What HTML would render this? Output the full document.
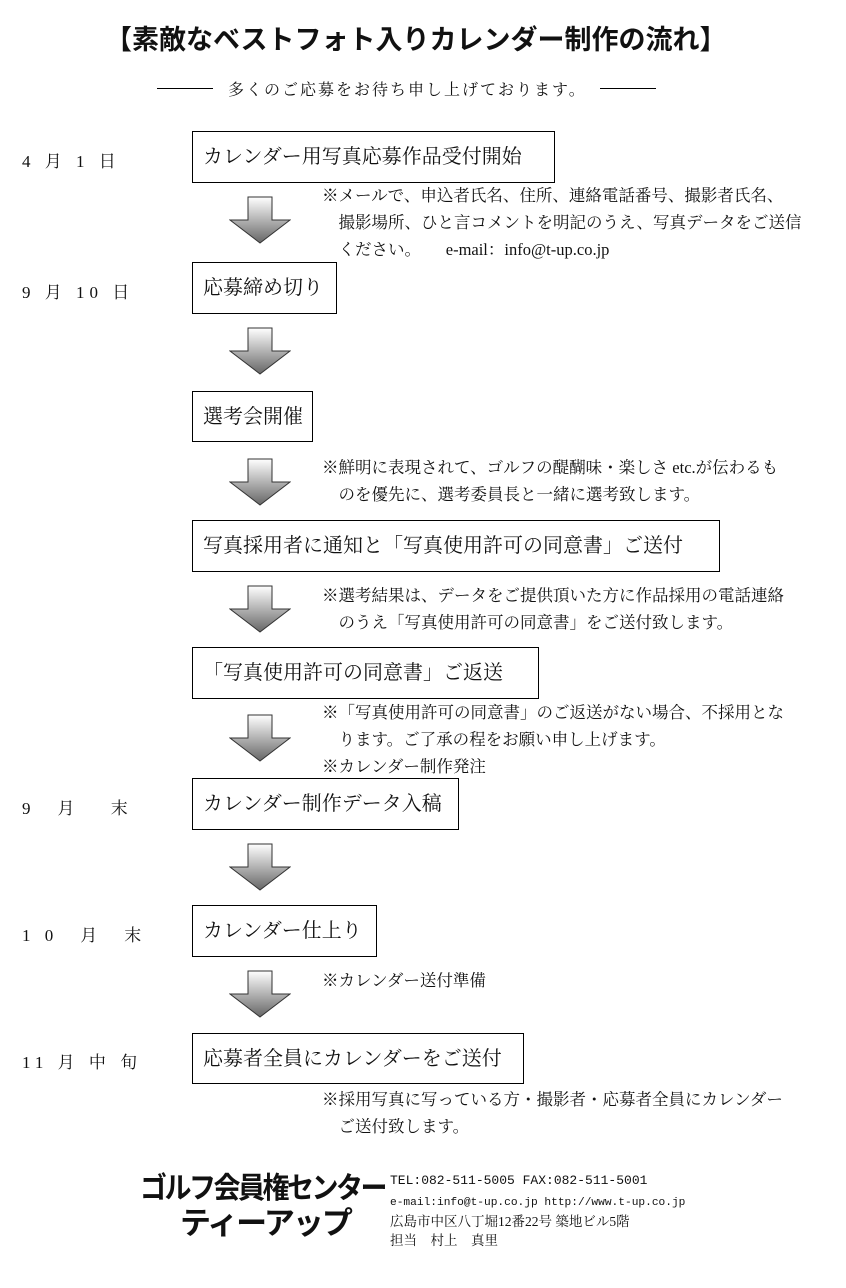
<!DOCTYPE html>
<html><head><meta charset="utf-8"><style>
body{margin:0;width:846px;height:1288px;background:#fff;position:relative;font-family:"Liberation Serif","Noto Serif CJK SC","Noto Sans CJK JP",serif;color:#111;overflow:hidden}
.a{position:absolute;white-space:nowrap}
.box{position:absolute;border:1.3px solid #000;box-sizing:border-box;font-size:20px;line-height:50px;padding-left:10px;white-space:nowrap}
.d{position:absolute;left:22px;font-size:17px;letter-spacing:5px}
.n{position:absolute;left:322px;font-size:16.5px;line-height:27px;white-space:nowrap}
svg.ar{position:absolute;left:229px;width:62px;height:48px}
</style></head><body>
<svg width="0" height="0" style="position:absolute"><defs><linearGradient id="g" x1="0" y1="0" x2="0" y2="1"><stop offset="0" stop-color="#fff"/><stop offset="1" stop-color="#666"/></linearGradient></defs></svg>
<div class="a" style="left:105px;top:18px;font-size:27px;font-weight:bold;font-family:'Liberation Sans','Noto Sans CJK JP',sans-serif">【素敵なベストフォト入りカレンダー制作の流れ】</div>
<div class="a" style="left:157px;top:88px;width:56px;border-top:1px solid #000"></div>
<div class="a" style="left:228px;top:77px;font-size:16px;letter-spacing:2px">多くのご応募をお待ち申し上げております。</div>
<div class="a" style="left:600px;top:88px;width:56px;border-top:1px solid #000"></div>

<div class="d" style="top:147px">4 月 1 日</div>
<div class="d" style="top:278px">9 月 10 日</div>
<div class="d" style="top:794px">9　月　 末</div>
<div class="d" style="top:921px">1 0　月　末</div>
<div class="d" style="top:1048px">11 月 中 旬</div>

<div class="box" style="left:192px;top:131px;width:363px;height:52px">カレンダー用写真応募作品受付開始</div>
<div class="box" style="left:192px;top:262px;width:145px;height:52px">応募締め切り</div>
<div class="box" style="left:192px;top:391px;width:121px;height:51px">選考会開催</div>
<div class="box" style="left:192px;top:520px;width:528px;height:52px">写真採用者に通知と「写真使用許可の同意書」ご送付</div>
<div class="box" style="left:192px;top:647px;width:347px;height:52px">「写真使用許可の同意書」ご返送</div>
<div class="box" style="left:192px;top:778px;width:267px;height:52px">カレンダー制作データ入稿</div>
<div class="box" style="left:192px;top:905px;width:185px;height:52px">カレンダー仕上り</div>
<div class="box" style="left:192px;top:1033px;width:332px;height:51px">応募者全員にカレンダーをご送付</div>

<svg class="ar" style="top:196px" viewBox="0 0 62 48"><polygon points="19,1 43,1 43,24 61,24 31,47 1,24 19,24" fill="url(#g)" stroke="#333" stroke-width="1"/></svg>
<svg class="ar" style="top:327px" viewBox="0 0 62 48"><polygon points="19,1 43,1 43,24 61,24 31,47 1,24 19,24" fill="url(#g)" stroke="#333" stroke-width="1"/></svg>
<svg class="ar" style="top:458px" viewBox="0 0 62 48"><polygon points="19,1 43,1 43,24 61,24 31,47 1,24 19,24" fill="url(#g)" stroke="#333" stroke-width="1"/></svg>
<svg class="ar" style="top:585px" viewBox="0 0 62 48"><polygon points="19,1 43,1 43,24 61,24 31,47 1,24 19,24" fill="url(#g)" stroke="#333" stroke-width="1"/></svg>
<svg class="ar" style="top:714px" viewBox="0 0 62 48"><polygon points="19,1 43,1 43,24 61,24 31,47 1,24 19,24" fill="url(#g)" stroke="#333" stroke-width="1"/></svg>
<svg class="ar" style="top:843px" viewBox="0 0 62 48"><polygon points="19,1 43,1 43,24 61,24 31,47 1,24 19,24" fill="url(#g)" stroke="#333" stroke-width="1"/></svg>
<svg class="ar" style="top:970px" viewBox="0 0 62 48"><polygon points="19,1 43,1 43,24 61,24 31,47 1,24 19,24" fill="url(#g)" stroke="#333" stroke-width="1"/></svg>

<div class="n" style="top:182px">※メールで、申込者氏名、住所、連絡電話番号、撮影者氏名、<br>　撮影場所、ひと言コメントを明記のうえ、写真データをご送信<br>　ください。　　e-mail：info@t-up.co.jp</div>
<div class="n" style="top:454px">※鮮明に表現されて、ゴルフの醍醐味・楽しさ etc.が伝わるも<br>　のを優先に、選考委員長と一緒に選考致します。</div>
<div class="n" style="top:582px">※選考結果は、データをご提供頂いた方に作品採用の電話連絡<br>　のうえ「写真使用許可の同意書」をご送付致します。</div>
<div class="n" style="top:699px">※「写真使用許可の同意書」のご返送がない場合、不採用とな<br>　ります。ご了承の程をお願い申し上げます。<br>※カレンダー制作発注</div>
<div class="n" style="top:967px">※カレンダー送付準備</div>
<div class="n" style="top:1086px">※採用写真に写っている方・撮影者・応募者全員にカレンダー<br>　ご送付致します。</div>

<div class="a" style="left:140px;top:1166px;font-size:27px;font-weight:bold;font-family:'Liberation Sans','Noto Sans CJK JP',sans-serif;letter-spacing:-2.5px;transform:scaleY(1.1)">ゴルフ会員権センター</div>
<div class="a" style="left:180px;top:1198px;font-size:31px;font-weight:bold;font-family:'Liberation Sans','Noto Sans CJK JP',sans-serif;letter-spacing:-2px">ティーアップ</div>
<div class="a" style="left:390px;top:1170px;font-size:13px;line-height:22px;font-family:'Liberation Mono','Noto Serif CJK SC',monospace">TEL:082-511-5005 FAX:082-511-5001</div>
<div class="a" style="left:390px;top:1194px;font-size:11.2px;line-height:18px;font-family:'Liberation Mono','Noto Serif CJK SC',monospace">e-mail:info@t-up.co.jp http://www.t-up.co.jp</div>
<div class="a" style="left:390px;top:1212px;font-size:13.5px;line-height:19px">広島市中区八丁堀12番22号 築地ビル5階</div>
<div class="a" style="left:390px;top:1231px;font-size:13.5px;line-height:19px">担当　村上　真里</div>
</body></html>
